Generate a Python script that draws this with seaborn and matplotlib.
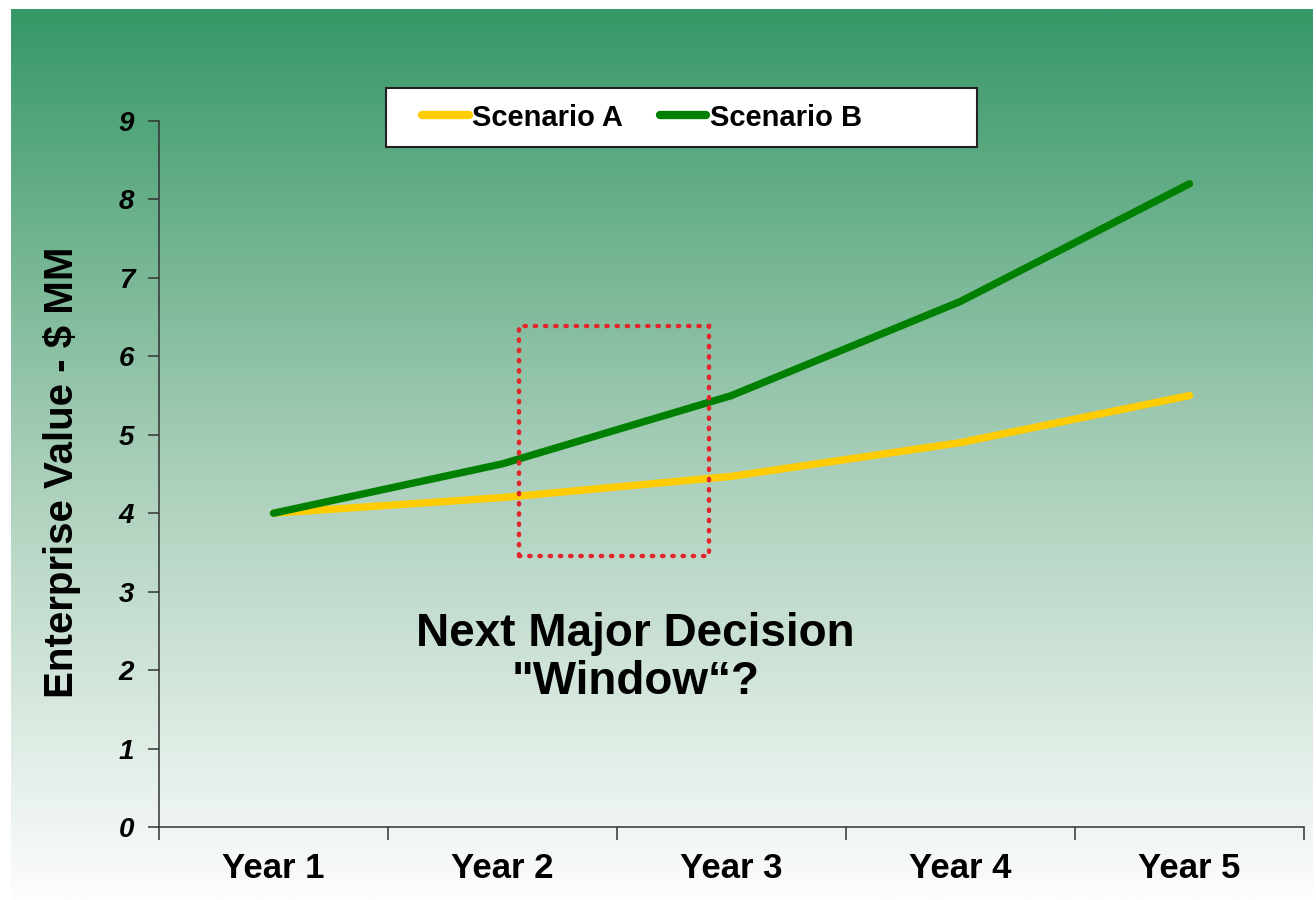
import numpy as np
import pandas as pd
import matplotlib
matplotlib.use("Agg")
import matplotlib.pyplot as plt
from matplotlib.patches import Rectangle
from matplotlib.colors import LinearSegmentedColormap
import seaborn as sns

# Chart data
years = ["Year 1", "Year 2", "Year 3", "Year 4", "Year 5"]
scenario_a = [4.0, 4.2, 4.47, 4.9, 5.5]
scenario_b = [4.0, 4.63, 5.5, 6.7, 8.2]
series_names = ["Scenario A", "Scenario B"]
y_ticks = [0, 1, 2, 3, 4, 5, 6, 7, 8, 9]
note_text = "Next Major Decision\n\"Window\u201c?"

# Long format table for seaborn
df = pd.DataFrame({
    "pos": list(range(len(years))) * 2,
    "value": scenario_a + scenario_b,
    "Scenario": [series_names[0]] * len(years) + [series_names[1]] * len(years)})

sns.set_style("ticks")
plt.rcParams["font.family"] = ["Liberation Sans", "DejaVu Sans"]
plt.rcParams["text.color"] = "black"
plt.rcParams["axes.labelcolor"] = "black"
plt.rcParams["xtick.color"] = "black"
plt.rcParams["ytick.color"] = "black"

W, H = 1316, 900
fig = plt.figure(figsize=(W / 100, H / 100), dpi=100)
fig.patch.set_facecolor("white")

# Green-to-white gradient panel behind the chart
bg = fig.add_axes([11 / W, 0, 1302 / W, 891 / H], zorder=0)
cmap = LinearSegmentedColormap.from_list(
    "bg", [(0.0, "#369866"), (0.5, "#a6cdb7"), (1.0, "#fdfdfd")])
grad = np.linspace(0, 1, 512).reshape(-1, 1)
bg.imshow(grad, aspect="auto", cmap=cmap, extent=[0, 1, 0, 1], origin="upper")
bg.set_axis_off()

ax = fig.add_axes([159 / W, 73 / H, 1145 / W, 706 / H], zorder=1)
ax.set_facecolor("none")

palette = {"Scenario A": "#FFCC00", "Scenario B": "#008000"}
sns.lineplot(data=df, x="pos", y="value", hue="Scenario", palette=palette,
             linewidth=5.3, ax=ax, sort=False)

ax.set_xlim(-0.5, len(years) - 0.5)
ax.set_ylim(0, 9)

# Category boundaries as ticks, labels at the centres
ax.set_xticks(np.arange(-0.5, len(years), 1.0))
ax.set_xticklabels([])
ax.set_xticks(range(len(years)), minor=True)
ax.set_xticklabels(years, minor=True, fontsize=25, fontweight="bold",
                   color="black")
ax.tick_params(axis="x", which="major", direction="out", length=9, width=1.1,
               color="#333333")
ax.tick_params(axis="x", which="minor", length=0, pad=18)

ax.set_yticks(y_ticks)
ax.set_yticklabels([str(t) for t in y_ticks], fontsize=20, fontweight="bold",
                   fontstyle="italic", color="black")
ax.tick_params(axis="y", direction="out", length=8, width=1.1, color="#333333",
               pad=10)

for side in ["top", "right"]:
    ax.spines[side].set_visible(False)
for side in ["left", "bottom"]:
    ax.spines[side].set_color("#333333")
    ax.spines[side].set_linewidth(1.1)

ax.set_xlabel("")
ax.set_ylabel("Enterprise Value - $ MM", fontsize=29, fontweight="bold",
              color="black")
ax.yaxis.set_label_coords(-0.068, 0.503)

# Dotted "window" box and note
box = Rectangle((1.07, 3.46), 0.83, 2.93, fill=False, edgecolor="#e3262b",
                linewidth=3.2, linestyle=(0, (0.3, 2.0)), zorder=3)
box.set_capstyle("round")
ax.add_patch(box)
ax.text(1.58, 2.16, note_text, ha="center", va="center", fontsize=33,
        fontweight="bold", linespacing=1.12, color="black")

# Legend: plain white box (wider than its contents, like the original)
fig.patches.append(Rectangle((386 / W, 1 - 147 / H), 591 / W, 59 / H,
                             transform=fig.transFigure, facecolor="white",
                             edgecolor="#222222", linewidth=1.5, zorder=2))
handles, labels = ax.get_legend_handles_labels()
ax.get_legend().remove()
leg = fig.legend(handles, labels, loc="center left",
                 bbox_to_anchor=(422 / W, 1 - 117.5 / H),
                 ncol=2, frameon=False,
                 prop={"weight": "bold", "size": 21}, handlelength=1.6,
                 handletextpad=0.12, columnspacing=1.25, borderpad=0,
                 borderaxespad=0)
leg.set_zorder(3)
for line in leg.get_lines():
    line.set_linewidth(6)
    line.set_solid_capstyle("round")

fig.savefig("out.png", dpi=100)
